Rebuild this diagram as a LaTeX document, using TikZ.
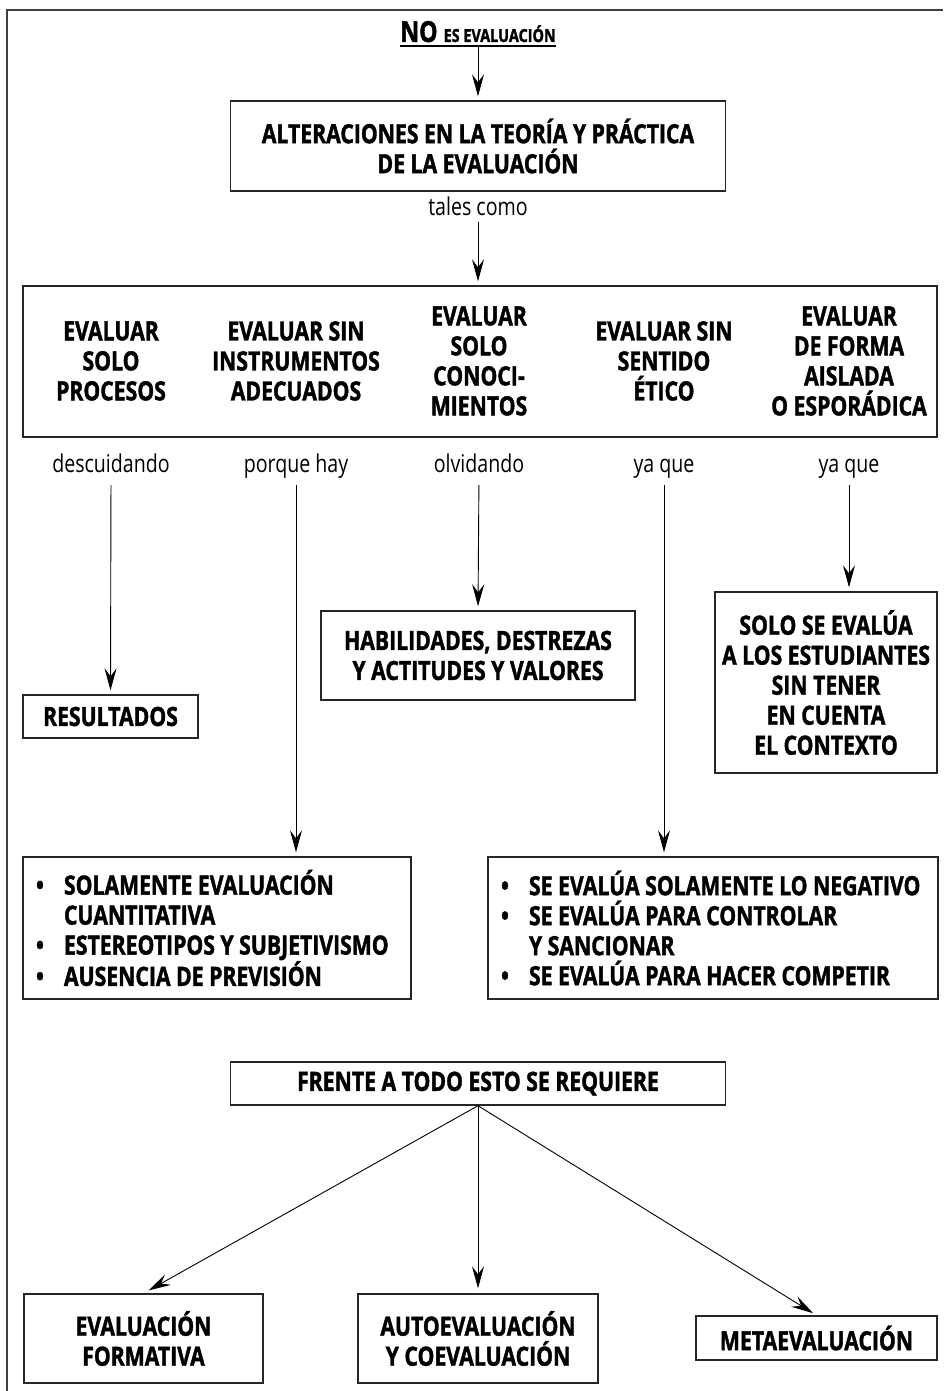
\documentclass[tikz,border=0pt]{standalone}
\usepackage{fontspec}
\setmainfont{Open Sans}[FakeStretch=0.8,BoldFeatures={FakeBold=1.5}]
\usetikzlibrary{arrows.meta}
\tikzset{caja/.style={draw=black!85,line width=1.4pt,align=center,inner sep=0pt,font=\fontsize{26.5}{30}\selectfont\bfseries},
         titulo/.style={align=center,inner sep=0pt,font=\fontsize{26.5}{30}\selectfont\bfseries},
         enlace/.style={inner sep=0pt,anchor=base,font=\fontsize{24.5}{30}\selectfont},
         flecha/.style={-{Stealth[length=22pt,width=12pt,inset=8pt]},line width=0.9pt,shorten >=4pt},
        }
\newcommand{\punto}{\makebox[28pt][l]{•}}
\newcommand{\sangria}{\hspace*{28pt}}

\begin{document}
\begin{tikzpicture}[x=1pt,y=-1pt]
        \useasboundingbox(0,0)rectangle(943,1391);
        \draw[black!75,line width=2pt](7,1391)--(7,10)--(943,10);

        \node[enlace](no)at(478,42){\fontsize{29}{32}\selectfont\bfseries NO \fontsize{18}{20}\selectfont ES EVALUACIÓN};
        \draw[line width=1.4pt]([yshift=-4pt]no.base west)--([yshift=-4pt]no.base east);
        \node[caja,minimum width=495pt,minimum height=90pt](alter)at(478,146){ALTERACIONES EN LA TEORÍA Y PRÁCTICA\\DE LA EVALUACIÓN};
        \draw[flecha]([yshift=-4pt]no.base)--(alter.north);

        \node[enlace](tales)at(478,215){tales como};
        \node[caja,minimum width=914pt,minimum height=151pt](tipos)at(480,361.5){};
        \draw[flecha,shorten <=7pt](tales.base)--(tales.base|-tipos.north);

        \node[titulo](t1)at(111,361){EVALUAR\\SOLO\\PROCESOS};
        \node[titulo](t2)at(296,361){EVALUAR SIN\\INSTRUMENTOS\\ADECUADOS};
        \node[titulo](t3)at(479,361){EVALUAR\\SOLO\\CONOCI-\\MIENTOS};
        \node[titulo](t4)at(664,361){EVALUAR SIN\\SENTIDO\\ÉTICO};
        \node[titulo](t5)at(849,361){EVALUAR\\DE FORMA\\AISLADA\\O ESPORÁDICA};

        \node[enlace](l1)at(111,472){descuidando};
        \node[enlace](l2)at(296,472){porque hay};
        \node[enlace](l3)at(479,472){olvidando};
        \node[enlace](l4)at(664,472){ya que};
        \node[enlace](l5)at(849,472){ya que};

        \node[caja,minimum width=175pt,minimum height=43pt](resul)at(110.5,716.5){RESULTADOS};
        \node[caja,minimum width=314pt,minimum height=89pt](habil)at(478,655.5){HABILIDADES, DESTREZAS\\Y ACTITUDES Y VALORES};
        \node[caja,minimum width=222pt,minimum height=181pt](solo)at(826,682.5){SOLO SE EVALÚA\\A LOS ESTUDIANTES\\SIN TENER\\EN CUENTA\\EL CONTEXTO};
        \node[caja,align=flush left,text width=362pt,inner xsep=13pt,minimum height=142pt](izq)at(217,928){\punto SOLAMENTE EVALUACIÓN\\\sangria CUANTITATIVA\\\punto ESTEREOTIPOS Y SUBJETIVISMO\\\punto AUSENCIA DE PREVISIÓN};
        \node[caja,align=flush left,text width=424pt,inner xsep=13pt,minimum height=142pt](der)at(713,928){\punto SE EVALÚA SOLAMENTE LO NEGATIVO\\\punto SE EVALÚA PARA CONTROLAR\\\sangria Y SANCIONAR\\\punto SE EVALÚA PARA HACER COMPETIR};

        \draw[flecha,shorten <=13pt](l1.base)--(resul.north);
        \draw[flecha,shorten <=13pt](l2.base)--(l2.base|-izq.north);
        \draw[flecha,shorten <=13pt](l3.base)--(habil.north);
        \draw[flecha,shorten <=13pt](l4.base)--(l4.base|-der.north);
        \draw[flecha,shorten <=13pt](l5.base)--(l5.base|-solo.north);

        \node[caja,minimum width=495pt,minimum height=43pt](frente)at(478,1083.5){FRENTE A TODO ESTO SE REQUIERE};
        \node[caja,minimum width=239pt,minimum height=89pt](formativa)at(143.5,1338.5){EVALUACIÓN\\FORMATIVA};
        \node[caja,minimum width=240pt,minimum height=89pt](auto)at(478,1338.5){AUTOEVALUACIÓN\\Y COEVALUACIÓN};
        \node[caja,minimum width=241pt,minimum height=44pt](meta)at(816.5,1338){METAEVALUACIÓN};

        \draw[flecha,shorten >=6pt](frente.south)--(formativa.north);
        \draw[flecha,shorten >=5pt](frente.south)--(auto.north);
        \draw[flecha,shorten >=4pt](frente.south)--(meta.north);
    \end{tikzpicture}
\end{document}
